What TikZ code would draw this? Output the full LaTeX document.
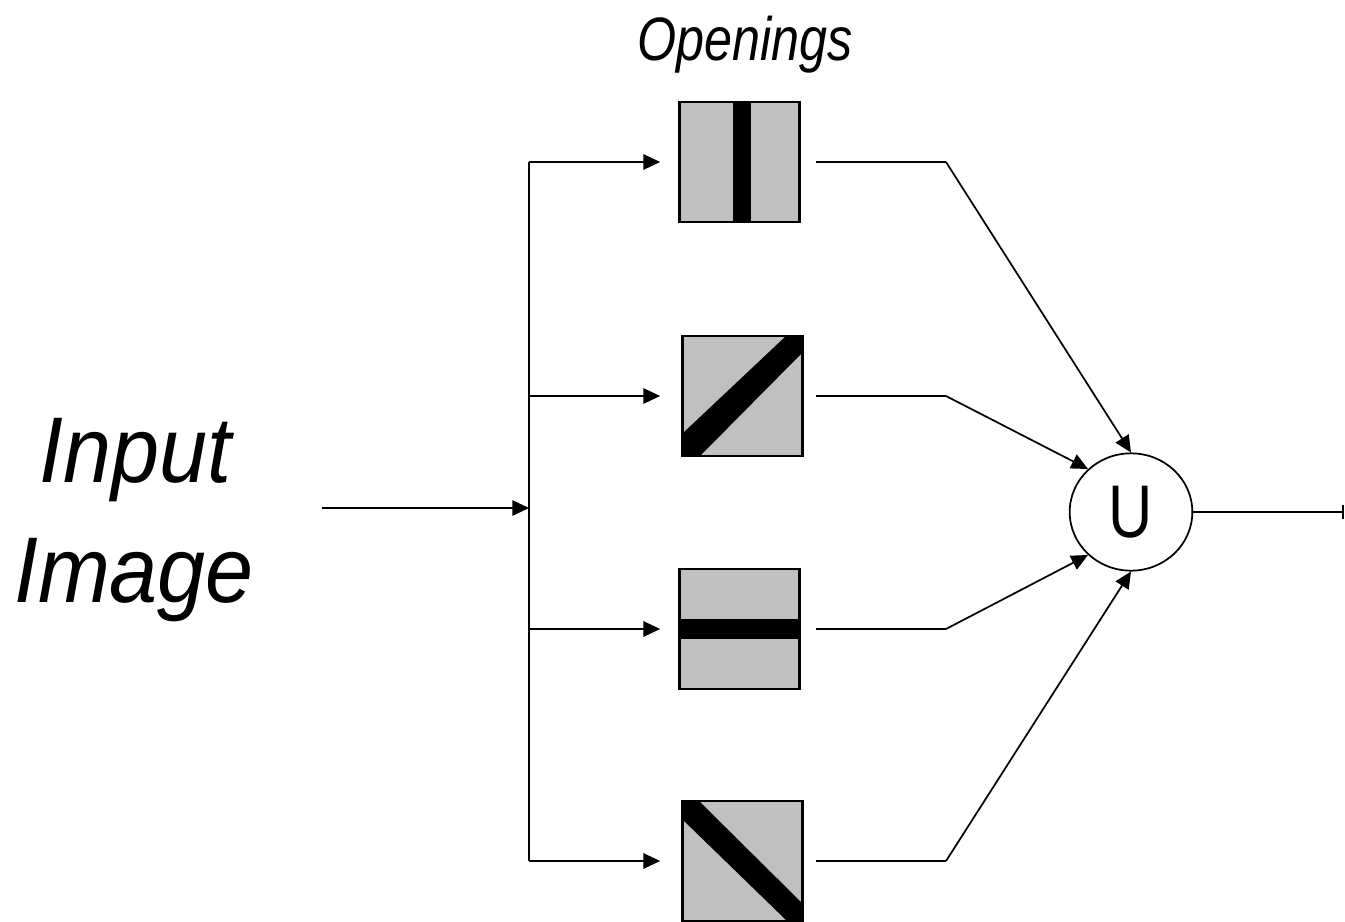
\documentclass[tikz,border=0pt]{standalone}
\usepackage{fontspec}
\usetikzlibrary{arrows.meta,shapes.geometric}
\newfontfamily\openfont[FakeStretch=0.82]{Liberation Sans}
\newfontfamily\inputfont[FakeStretch=0.925]{Liberation Sans}
\definecolor{boxgray}{HTML}{C0C0C0}
\begin{document}
\begin{tikzpicture}[x=0.75pt,y=-0.75pt,
  arr/.style={-{Triangle[length=12.5pt,width=11.5pt]}},
  conn/.style={line width=1.3pt},
  outline/.style={line width=2.1pt},
  filterbox/.style={draw=black,fill=boxgray,line width=1.3pt,minimum size=89.25pt,inner sep=0pt},
  bar/.style={fill=black}]
\useasboundingbox (0,0) rectangle (1345,921);
% labels
\node[anchor=base,font=\openfont\itshape\fontsize{46pt}{50pt}\selectfont] (open) at (745,60) {Openings};
\node[anchor=base,font=\inputfont\itshape\fontsize{70pt}{80pt}\selectfont] (inp) at (136,482) {Input};
\node[anchor=base,font=\inputfont\itshape\fontsize{70pt}{80pt}\selectfont] (img) at (134,602) {Image};
% filter boxes
\node[filterbox] (b1) at (739.5,162) {};
\node[filterbox] (b2) at (742.5,396) {};
\node[filterbox] (b3) at (739.5,629) {};
\node[filterbox] (b4) at (742.5,861) {};
% bars
\fill[bar] (733,103) rectangle (751,222);
\fill[bar] (683,456) -- (683,433) -- (786,336) -- (802,336) -- (802,353) -- (700,456) -- cycle;
\fill[bar] (680,619) rectangle (799,639);
\fill[bar] (683,802) -- (700,802) -- (802,903) -- (802,920) -- (786,920) -- (683,820) -- cycle;
\draw[line width=1.3pt] (b1.south west) rectangle (b1.north east);
\draw[line width=1.3pt] (b2.south west) rectangle (b2.north east);
\draw[line width=1.3pt] (b3.south west) rectangle (b3.north east);
\draw[line width=1.3pt] (b4.south west) rectangle (b4.north east);
% union node
\node[ellipse,draw,line width=1.3pt,minimum width=92pt,minimum height=88pt,inner sep=0pt,
  font=\openfont\fontsize{56pt}{60pt}\selectfont] (U) at (1131,512) {U};
% coordinates
\coordinate (in) at (322,508);
\coordinate (j0) at (529,508);
\coordinate (j1) at (529,162);
\coordinate (j2) at (529,396);
\coordinate (j3) at (529,629);
\coordinate (j4) at (529,861);
\coordinate (k1) at (946,162);
\coordinate (k2) at (946,396);
\coordinate (k3) at (946,629);
\coordinate (k4) at (946,861);
\coordinate (out) at (1344,512);
% input side
\draw[conn,arr] (in) -- (j0);
\draw[conn] (j1) -- (j4);
\draw[conn,arr,shorten >=14.25pt] (j1) -- (b1.west);
\draw[conn,arr,shorten >=16.5pt] (j2) -- (b2.west);
\draw[conn,arr,shorten >=14.25pt] (j3) -- (b3.west);
\draw[conn,arr,shorten >=16.5pt] (j4) -- (b4.west);
% output side
\draw[outline,shorten <=12pt] (b1.east) -- (k1);
\draw[outline,shorten <=9.75pt] (b2.east) -- (k2);
\draw[outline,shorten <=12pt] (b3.east) -- (k3);
\draw[outline,shorten <=9.75pt] (b4.east) -- (k4);
\draw[conn,arr] (k1) -- (U.north);
\draw[conn,arr] (k2) -- (U.135);
\draw[conn,arr] (k3) -- (U.225);
\draw[conn,arr] (k4) -- (U.south);
\draw[conn,-{Bar[width=10.5pt]}] (U.east) -- (out);
\end{tikzpicture}
\end{document}
